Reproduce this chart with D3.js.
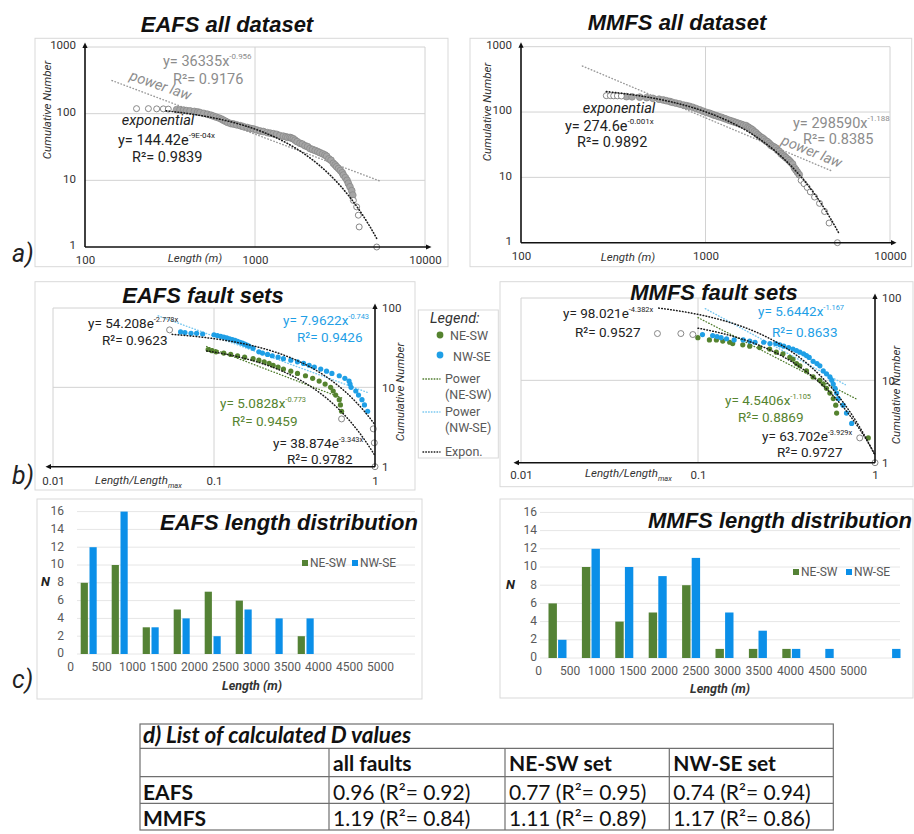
<!DOCTYPE html>
<html><head><meta charset="utf-8">
<script src="https://cdn.jsdelivr.net/npm/d3@7/dist/d3.min.js"></script>
<style>body{margin:0;background:#fff}svg{display:block}</style>
</head><body>
<svg id="fig" width="914" height="834"></svg>
<script>
// ================= DATA =================
const lenTicks = [100, 1000, 10000];
const cumTicks = [1, 10, 100, 1000];
const normTicks = [0.01, 0.1, 1];
const setTicks = [1, 10, 100];

// a) all dataset: [length (m), cumulative number]
const eafsAllPts = [[346,115],[362,114],[380,113],[396,111],[415,110],[440,108],[460,106],[475,104],[500,101],[525,98],[550,95],[569,92],[590,89],[615,86],[635,83],[651,80],[670,77],[690,74],[720,71],[746,70],[780,68],[820,66],[854,64],[900,62],[940,60],[977,59],[1020,57],[1070,55],[1119,54],[1180,52],[1230,51],[1282,50],[1340,49],[1400,47],[1468,46],[1520,45],[1560,44],[1607,44],[1640,43],[1680,42],[1720,40],[1770,38],[1839,36],[1900,35],[1970,33],[2040,32],[2106,30],[2180,29],[2260,28],[2340,27],[2412,26],[2500,25],[2580,24],[2640,23],[2720,21],[2800,20],[2890,18],[2960,17],[3020,16],[3100,15],[3180,14],[3260,13],[3310,12],[3400,11],[3480,10],[3540,9],[3620,8],[3707,7],[3760,6]];
const eafsAllOpen = [[201,119],[236,119],[264,118],[289,118],[309,117],[3790,5],[3963,4],[4055,3],[4100,2],[5200,1]];
const mmfsAllPts = [[373,172],[400,171],[440,169],[480,166],[519,162],[560,157],[590,153],[613,149],[640,145],[660,141],[690,137],[723,133],[760,128],[790,125],[820,122],[854,118],[890,113],[930,108],[970,103],[1009,99],[1050,96],[1080,93],[1110,90],[1143,88],[1180,85],[1220,83],[1260,80],[1294,78],[1340,75],[1380,73],[1420,71],[1465,69],[1510,67],[1560,65],[1610,63],[1659,62],[1700,59],[1730,57],[1770,55],[1803,53],[1840,50],[1880,48],[1920,45],[1959,43],[2000,41],[2040,40],[2080,38],[2128,36],[2170,35],[2220,33],[2260,31],[2312,30],[2360,29],[2410,28],[2460,26],[2512,25],[2570,23],[2620,22],[2680,21],[2729,20],[2790,19],[2850,18],[2900,17],[2965,16],[3030,14],[3090,13],[3150,12],[3221,11]];
const mmfsAllOpen = [[290,178],[305,178],[318,177],[333,177],[350,176],[3300,9],[3420,8],[3560,7],[3700,6],[3900,5],[4150,4],[4420,3],[4677,2],[5188,1]];
// fits: [coefficient, exponent, from, to]
const eafsAllPow = [36335, -0.956, 144, 5400];
const eafsAllExp = [144.42, -9e-4, 300, 5250];
const mmfsAllPow = [298590, -1.188, 215, 4850];
const mmfsAllExp = [274.6, -0.001, 290, 5300];

// b) fault sets: [length/length_max, cumulative number]
const eafsNWSE = [[0.062,50],[0.066,49],[0.072,48],[0.078,48],[0.085,47],[0.1,46],[0.105,45],[0.11,44],[0.115,43],[0.12,42],[0.125,41],[0.13,40],[0.135,39],[0.14,38],[0.145,37],[0.15,36],[0.155,35],[0.16,34],[0.165,33],[0.175,31],[0.19,28],[0.2,27],[0.215,26],[0.23,25],[0.25,24],[0.27,23],[0.3,22],[0.33,21],[0.36,20],[0.39,19],[0.42,18],[0.46,17],[0.5,16],[0.54,15],[0.6,14],[0.65,13],[0.69,12],[0.7,11],[0.71,10],[0.76,9],[0.79,8],[0.83,7],[0.86,6],[0.9,5]];
const eafsNESW = [[0.092,30],[0.097,29],[0.103,28],[0.115,27],[0.127,26],[0.14,25],[0.155,24],[0.175,23],[0.19,22],[0.205,21],[0.22,20],[0.233,19],[0.25,18],[0.27,17],[0.3,16],[0.33,15],[0.37,14],[0.41,13],[0.45,12],[0.49,11],[0.53,10],[0.55,9],[0.57,8],[0.6,7],[0.61,6],[0.62,5]];
const eafsSetOpen = [[0.053,53],[0.62,4],[0.976,3],[0.99,2],[1,1]];
const mmfsNWSE = [[0.106,36],[0.121,35],[0.128,34],[0.135,33],[0.145,32],[0.16,31],[0.18,31],[0.196,30],[0.21,29],[0.235,29],[0.255,28],[0.275,28],[0.29,27],[0.305,26],[0.325,25],[0.344,24],[0.36,23],[0.376,22],[0.395,21],[0.41,20],[0.425,19],[0.447,17],[0.47,16],[0.488,15],[0.51,13],[0.532,12],[0.556,11],[0.57,10],[0.581,9],[0.595,8],[0.607,7],[0.62,6],[0.66,5],[0.69,4],[0.738,3]];
const mmfsNESW = [[0.0998,33],[0.116,31],[0.127,31],[0.138,30],[0.151,29],[0.157,28],[0.179,27],[0.196,26],[0.223,25],[0.254,24],[0.277,22],[0.302,21],[0.33,19],[0.344,18],[0.36,16],[0.376,15],[0.41,13],[0.447,11],[0.488,10],[0.51,9],[0.532,8],[0.556,7],[0.581,6],[0.6,5],[0.607,4],[0.916,2]];
const mmfsSetOpen = [[0.059,37],[0.08,37],[0.0935,36],[0.82,2],[1,1]];
const eafsPowNESW = [5.0828, -0.773, 0.09, 0.62];
const eafsPowNWSE = [7.9622, -0.743, 0.045, 0.9];
const eafsExpNWSE = [54.208, -2.778, 0.055, 1];
const eafsExpNESW = [38.874, -3.343, 0.09, 1];
const mmfsPowNESW = [4.5406, -1.105, 0.1, 0.8];
const mmfsPowNWSE = [5.6442, -1.167, 0.11, 0.68];
const mmfsExpNWSE = [98.021, -4.382, 0.06, 1];
const mmfsExpNESW = [63.702, -3.929, 0.1, 1];

// c) length distribution
const histLenTicks = [0,500,1000,1500,2000,2500,3000,3500,4000,4500,5000];
const histNTicks = [0,2,4,6,8,10,12,14,16];
const eafsBins = ["0-500","500-1000","1000-1500","1500-2000","2000-2500","2500-3000","3000-3500","3500-4000","4000-4500","4500-5000"];
const eafsNEcount = [8,10,3,5,7,6,0,2,0,0];
const eafsNWcount = [12,16,3,4,2,5,4,4,0,0];
const mmfsBins = ["0-500","500-1000","1000-1500","1500-2000","2000-2500","2500-3000","3000-3500","3500-4000","4000-4500","4500-5000","5000-5500"];
const mmfsNEcount = [6,10,4,5,8,1,1,1,0,0,0];
const mmfsNWcount = [2,12,10,9,11,5,3,1,1,0,1];

// d) table
const tableTitle = "d) List of calculated D values";
const tableCols = ["all faults","NE-SW set","NW-SE set"];
const tableRows = ["EAFS","MMFS"];
const tableD = [[0.96,0.77,0.74],[1.19,1.11,1.17]];
const tableR2 = [[0.92,0.95,0.94],[0.84,0.89,0.86]];

// ================= DRAWING =================
const svg = d3.select('#fig');
const FA = "Roboto, 'Open Sans', 'DejaVu Sans', sans-serif";
const FT = "'Liberation Sans', Arial, Helvetica, sans-serif";
const FL = "Lato, 'Open Sans', sans-serif";
const COL = {green:'#55832f', blue:'#1f9fe6', barG:'#548235', barB:'#0b8fe8',
  gray:'#8c8c8c', dark:'#222', frame:'#d9d9d9', grid:'#d2d2d2', hgrid:'#e6e6e6', lg:'#595959'};

function T(g, x, y, s, o = {}) {
  const t = g.append('text').attr('x', x).attr('y', y)
    .attr('font-family', o.ff || FA).attr('font-size', o.fs || 12)
    .attr('fill', o.fill || COL.dark).text(s);
  if (o.anchor) t.attr('text-anchor', o.anchor);
  if (o.fw) t.attr('font-weight', o.fw);
  if (o.it) t.attr('font-style', 'italic');
  if (o.rot != null) t.attr('transform', `rotate(${o.rot},${x},${y})`);
  return t;
}
function EQ(g, x, y, base, sup, o) {
  const fs = o.fs || 13;
  const t = T(g, x, y, base, o);
  t.append('tspan').attr('font-size', fs * 0.55).attr('dy', -fs * 0.45).text(sup);
  return t;
}
function frame(x, y, w, h) {
  svg.append('rect').attr('x', x).attr('y', y).attr('width', w).attr('height', h)
    .attr('fill', 'none').attr('stroke', COL.frame).attr('stroke-width', 1);
}
function arrow(g, x, y, dir) {
  const a = 4.5, b = 2.6; let d;
  if (dir === 'up') d = `M${x},${y - a}L${x - b},${y + 1}L${x + b},${y + 1}Z`;
  if (dir === 'right') d = `M${x + a},${y}L${x - 1},${y - b}L${x - 1},${y + b}Z`;
  if (dir === 'left') d = `M${x - a},${y}L${x + 1},${y - b}L${x + 1},${y + b}Z`;
  g.append('path').attr('d', d).attr('fill', '#111');
}
function line(g, x1, y1, x2, y2, stroke, w) {
  return g.append('line').attr('x1', x1).attr('y1', y1).attr('x2', x2).attr('y2', y2)
    .attr('stroke', stroke).attr('stroke-width', w || 1);
}
function fitLine(g, sx, sy, f, kind, stroke, dash, w) {
  const l0 = Math.log10(f[2]), l1 = Math.log10(f[3]);
  const pts = d3.range(0, 81).map(i => {
    const v = Math.pow(10, l0 + (l1 - l0) * i / 80);
    const n = kind === 'pow' ? f[0] * Math.pow(v, f[1]) : f[0] * Math.exp(f[1] * v);
    return [sx(v), sy(n)];
  });
  g.append('path').attr('d', d3.line()(pts)).attr('fill', 'none').attr('stroke', stroke)
    .attr('stroke-width', w).attr('stroke-dasharray', dash).attr('stroke-linecap', 'round');
}
function styleAxis(ax, fs, fill) {
  ax.select('.domain').remove();
  ax.selectAll('text').attr('font-family', FA).attr('font-size', fs).attr('fill', fill);
}
function dots(g, data, sx, sy, r, fill, stroke, sw) {
  g.append('g').selectAll('circle').data(data).join('circle')
    .attr('cx', d => sx(d[0])).attr('cy', d => sy(d[1])).attr('r', r)
    .attr('fill', fill).attr('stroke', stroke).attr('stroke-width', sw);
}

// ---------- panel a ----------
function panelA(o) {
  frame(...o.frame);
  const g = svg.append('g');
  const x = d3.scaleLog().domain([100, 10000]).range(o.xr);
  const y = d3.scaleLog().domain([1, 1000]).range(o.yr);
  lenTicks.slice(1).forEach(t => line(g, x(t), y(1000), x(t), y(1), COL.grid));
  cumTicks.slice(1).forEach(t => line(g, x(100), y(t), x(10000), y(t), COL.grid));
  fitLine(g, x, y, o.pow, 'pow', '#9a9a9a', '0.6,2.6', 1.4);
  dots(g, o.pts, x, y, 3.4, '#a6a6a6', '#858585', 0.7);
  dots(g, o.open, x, y, 3, '#fff', '#7a7a7a', 0.9);
  fitLine(g, x, y, o.exp, 'exp', '#1a1a1a', '0.6,2.4', 1.6);
  line(g, x(100), y(1), x(10000) + 2, y(1), '#111', 1.6);
  arrow(g, x(10000) + 2, y(1), 'right');
  line(g, x(100), y(1), x(100), y(1000), '#111', 1.6);
  arrow(g, x(100), y(1000), 'up');
  const ax = g.append('g').attr('transform', `translate(0,${y(1)})`)
    .call(d3.axisBottom(x).tickValues(lenTicks).tickFormat(d3.format('d')).tickSize(0).tickPadding(9));
  styleAxis(ax, 11.5, '#333');
  const ay = g.append('g').attr('transform', `translate(${x(100)},-2)`)
    .call(d3.axisLeft(y).tickValues(cumTicks).tickFormat(d3.format('d')).tickSize(0).tickPadding(9));
  styleAxis(ay, 11.5, '#333');
  T(svg, o.title[0], o.title[1], o.title[2], {ff: FT, fs: 22, fw: 'bold', it: true, anchor: 'middle', fill: '#111'});
  T(g, o.cum[0], o.cum[1], 'Cumulative Number', {fs: 11.5, it: true, anchor: 'middle', rot: -90, fill: '#333'});
  T(g, o.len[0], o.len[1], 'Length (m)', {fs: 11.5, it: true, anchor: 'middle', fill: '#333'});
  o.labels(g);
}

panelA({
  frame: [35, 38.3, 413, 228.4], xr: [85, 425], yr: [247, 47],
  pts: eafsAllPts, open: eafsAllOpen, pow: eafsAllPow, exp: eafsAllExp,
  title: [227, 32, 'EAFS all dataset'], cum: [51, 110], len: [195, 262],
  labels: g => {
    EQ(g, 163, 66, 'y= 36335x', '-0.956', {fs: 14.5, fill: COL.gray});
    T(g, 173, 84, 'R²= 0.9176', {fs: 14.5, fill: COL.gray});
    T(g, 159, 90, 'power law', {fs: 14.5, fill: COL.gray, it: true, anchor: 'middle', rot: 19});
    T(g, 158, 125, 'exponential', {fs: 14.5, it: true, anchor: 'middle'});
    EQ(g, 118, 145, 'y= 144.42e', '-9E-04x', {fs: 14.5});
    T(g, 132, 162, 'R²= 0.9839', {fs: 14.5});
  }
});
panelA({
  frame: [470, 38.3, 441.7, 228.4], xr: [521, 890], yr: [242.7, 46.7],
  pts: mmfsAllPts, open: mmfsAllOpen, pow: mmfsAllPow, exp: mmfsAllExp,
  title: [677, 30, 'MMFS all dataset'], cum: [491, 112], len: [628, 261],
  labels: g => {
    T(g, 619, 113, 'exponential', {fs: 14.5, it: true, anchor: 'middle'});
    EQ(g, 565, 131, 'y= 274.6e', '-0.001x', {fs: 14.5});
    T(g, 577, 147, 'R²= 0.9892', {fs: 14.5});
    EQ(g, 793, 128, 'y= 298590x', '-1.188', {fs: 14.5, fill: COL.gray});
    T(g, 803, 144, 'R²= 0.8385', {fs: 14.5, fill: COL.gray});
    T(g, 810, 156, 'power law', {fs: 14.5, fill: COL.gray, it: true, anchor: 'middle', rot: 22});
  }
});

// ---------- panel b ----------
function panelB(o) {
  frame(...o.frame);
  const g = svg.append('g');
  const x = d3.scaleLog().domain([0.01, 1]).range(o.xr);
  const y = d3.scaleLog().domain([1, 100]).range(o.yr);
  normTicks.slice(0, 2).forEach(t => line(g, x(t), y(100), x(t), y(1), COL.grid));
  setTicks.slice(1).forEach(t => line(g, x(0.01), y(t), x(1), y(t), COL.grid));
  fitLine(g, x, y, o.fits[0], 'pow', '#4d7a2a', '0.6,2.4', 1.3);
  fitLine(g, x, y, o.fits[1], 'pow', '#79c8f0', '0.6,2.4', 1.4);
  dots(g, o.ne, x, y, 2.6, COL.green, 'none', 0);
  dots(g, o.nw, x, y, 2.6, COL.blue, 'none', 0);
  dots(g, o.open, x, y, 3, '#fff', '#7a7a7a', 0.9);
  fitLine(g, x, y, o.fits[2], 'exp', '#1a1a1a', '0.6,2.4', 1.5);
  fitLine(g, x, y, o.fits[3], 'exp', '#1a1a1a', '0.6,2.4', 1.5);
  line(g, x(1), y(1), x(0.01) - 3, y(1), '#111', 1.6);
  arrow(g, x(0.01) - 3, y(1), 'left');
  line(g, x(1), y(1), x(1), y(100), '#111', 1.6);
  arrow(g, x(1), y(100), 'up');
  const ax = g.append('g').attr('transform', `translate(0,${y(1)})`)
    .call(d3.axisBottom(x).tickValues(normTicks).tickFormat(d3.format('')).tickSize(0).tickPadding(o.xpad));
  styleAxis(ax, 11.5, '#333');
  const ay = g.append('g').attr('transform', `translate(${x(1)},0)`)
    .call(d3.axisRight(y).tickValues(setTicks).tickFormat(d3.format('d')).tickSize(0).tickPadding(7));
  styleAxis(ay, 11.5, '#333');
  T(svg, o.title[0], o.title[1], o.title[2], {ff: FT, fs: 22, fw: 'bold', it: true, anchor: 'middle', fill: '#111'});
  T(g, o.cum[0], o.cum[1], 'Cumulative Number', {fs: 11.5, it: true, anchor: 'middle', rot: -90, fill: '#333'});
  const lt = T(g, o.len[0], o.len[1], 'Length/Length', {fs: 11.5, it: true, fill: '#333'});
  lt.append('tspan').attr('font-size', 7.5).attr('dy', 3.5).text('max');
  o.labels(g);
}

panelB({
  frame: [35, 281.7, 380, 208.3], xr: [53, 375], yr: [466.7, 308], xpad: 10,
  ne: eafsNESW, nw: eafsNWSE, open: eafsSetOpen,
  fits: [eafsPowNESW, eafsPowNWSE, eafsExpNWSE, eafsExpNESW],
  title: [203, 303, 'EAFS fault sets'], cum: [404, 392], len: [95, 484],
  labels: g => {
    EQ(g, 88, 328, 'y= 54.208e', '-2.778x', {fs: 13.5});
    T(g, 102, 345, 'R²= 0.9623', {fs: 13.5});
    EQ(g, 283, 325, 'y= 7.9622x', '-0.743', {fs: 13.5, fill: COL.blue});
    T(g, 297, 342, 'R²= 0.9426', {fs: 13.5, fill: COL.blue});
    EQ(g, 220, 408, 'y= 5.0828x', '-0.773', {fs: 13.5, fill: COL.green});
    T(g, 232, 426, 'R²= 0.9459', {fs: 13.5, fill: COL.green});
    EQ(g, 273, 448, 'y= 38.874e', '-3.343x', {fs: 13.5});
    T(g, 287, 464, 'R²= 0.9782', {fs: 13.5});
  }
});
panelB({
  frame: [500, 281.7, 413, 205], xr: [521, 875], yr: [462.7, 298], xpad: 8,
  ne: mmfsNESW, nw: mmfsNWSE, open: mmfsSetOpen,
  fits: [mmfsPowNESW, mmfsPowNWSE, mmfsExpNWSE, mmfsExpNESW],
  title: [714, 300, 'MMFS fault sets'], cum: [900, 395], len: [585, 477],
  labels: g => {
    EQ(g, 563, 318, 'y= 98.021e', '-4.382x', {fs: 13.5});
    T(g, 575, 337, 'R²= 0.9527', {fs: 13.5});
    EQ(g, 758, 316, 'y= 5.6442x', '-1.167', {fs: 13.5, fill: COL.blue});
    T(g, 772, 337, 'R²= 0.8633', {fs: 13.5, fill: COL.blue});
    EQ(g, 725, 405, 'y= 4.5406x', '-1.105', {fs: 13.5, fill: COL.green});
    T(g, 738, 422, 'R²= 0.8869', {fs: 13.5, fill: COL.green});
    EQ(g, 762, 441, 'y= 63.702e', '-3.929x', {fs: 13.5});
    T(g, 777, 457, 'R²= 0.9727', {fs: 13.5});
  }
});

// legend of b
(function () {
  const g = svg.append('g');
  g.append('rect').attr('x', 418.3).attr('y', 310).attr('width', 80).attr('height', 148)
    .attr('fill', '#fff').attr('stroke', COL.frame);
  T(g, 430, 323, 'Legend:', {fs: 14.5, it: true, fill: '#333'});
  g.append('circle').attr('cx', 440).attr('cy', 335).attr('r', 3.4).attr('fill', COL.green);
  T(g, 450, 340, 'NE-SW', {fs: 12.5, fill: COL.lg});
  g.append('circle').attr('cx', 440).attr('cy', 355).attr('r', 3.4).attr('fill', COL.blue);
  T(g, 453, 361, 'NW-SE', {fs: 12.5, fill: COL.lg});
  const items = [[379, '#4d7a2a', 'Power', '(NE-SW)'], [412, '#79c8f0', 'Power', '(NW-SE)'], [452, '#1a1a1a', 'Expon.', null]];
  items.forEach(([yy, c, a, b]) => {
    g.append('line').attr('x1', 423).attr('x2', 440).attr('y1', yy).attr('y2', yy)
      .attr('stroke', c).attr('stroke-width', 1.4).attr('stroke-dasharray', '0.6,2.2').attr('stroke-linecap', 'round');
    T(g, 445, yy + 4, a, {fs: 12.5, fill: COL.lg});
    if (b) T(g, 445, yy + 20, b, {fs: 12.5, fill: COL.lg});
  });
})();

// ---------- panel c ----------
function panelC(o) {
  frame(...o.frame);
  const g = svg.append('g');
  const y = d3.scaleLinear().domain([0, 16]).range(o.yr);
  const band = d3.scaleBand().domain(o.bins).range(o.br);
  const xl = d3.scaleLinear().domain([0, 5000]).range(o.lr);
  histNTicks.forEach(t => line(g, o.gx[0], y(t), o.gx[1], y(t), COL.hgrid));
  const c = b => band(b) + band.bandwidth() / 2;
  g.append('g').selectAll('rect').data(o.bins.filter((b, i) => o.ne[i] > 0)).join('rect')
    .attr('x', b => c(b) - o.gap / 2 - o.bw).attr('width', o.bw)
    .attr('y', b => y(o.ne[o.bins.indexOf(b)])).attr('height', b => y(0) - y(o.ne[o.bins.indexOf(b)]))
    .attr('fill', COL.barG);
  g.append('g').selectAll('rect').data(o.bins.filter((b, i) => o.nw[i] > 0)).join('rect')
    .attr('x', b => c(b) + o.gap / 2).attr('width', o.bw)
    .attr('y', b => y(o.nw[o.bins.indexOf(b)])).attr('height', b => y(0) - y(o.nw[o.bins.indexOf(b)]))
    .attr('fill', COL.barB);
  const ax = g.append('g').attr('transform', `translate(0,${y(0)})`)
    .call(d3.axisBottom(xl).tickValues(histLenTicks).tickFormat(d3.format('d')).tickSize(0).tickPadding(8));
  styleAxis(ax, 12, COL.lg);
  const ay = g.append('g').attr('transform', `translate(${o.yl},-1)`)
    .call(d3.axisLeft(y).tickValues(histNTicks).tickFormat(d3.format('d')).tickSize(0).tickPadding(0));
  styleAxis(ay, 12, COL.lg);
  T(g, o.N[0], o.N[1], 'N', {fs: 13, fw: 'bold', it: true, fill: '#222'});
  T(g, o.len[0], o.len[1], 'Length (m)', {fs: 12.5, fw: 'bold', it: true, anchor: 'middle', fill: '#333'});
  T(svg, o.title[0], o.title[1], o.title[2], {ff: FT, fs: 22, fw: 'bold', it: true, anchor: o.title[3], fill: '#111'});
  const L = o.leg;
  g.append('rect').attr('x', L[0]).attr('y', L[1] - 3).attr('width', 6).attr('height', 6).attr('fill', COL.barG);
  T(g, L[0] + 8, L[1] + 4, 'NE-SW', {fs: 12, fill: COL.lg});
  g.append('rect').attr('x', L[2]).attr('y', L[1] - 3).attr('width', 6).attr('height', 6).attr('fill', COL.barB);
  T(g, L[2] + 8, L[1] + 4, 'NW-SE', {fs: 12, fill: COL.lg});
}
panelC({
  frame: [37, 499, 385, 200], yr: [654, 511.6], br: [73.2, 383.2], lr: [70, 380],
  bins: eafsBins, ne: eafsNEcount, nw: eafsNWcount, bw: 7.2, gap: 1.6,
  gx: [77, 415], yl: 64, N: [41, 586], len: [252, 690],
  title: [289, 530, 'EAFS length distribution', 'middle'], leg: [302, 563, 352]
});
panelC({
  frame: [500, 499, 413, 199], yr: [658, 512.4], br: [540.8, 908.2], lr: [538, 853],
  bins: mmfsBins, ne: mmfsNEcount, nw: mmfsNWcount, bw: 8.4, gap: 1.2,
  gx: [540, 900], yl: 537, N: [506, 589], len: [720, 693],
  title: [648, 528, 'MMFS length distribution', 'start'], leg: [793, 572, 846]
});

// panel letters
[['a)', 12, 262], ['b)', 12, 484], ['c)', 12, 688]].forEach(([s, x, y]) =>
  T(svg, x, y, s, {fs: 25, it: true, fill: '#222'}));

// ---------- table ----------
(function () {
  const g = svg.append('g');
  const tx = [140, 329, 505, 669.3, 833.3], ty = [724, 748.3, 776.7, 803.3, 830];
  const st = '#6f6f6f';
  g.append('rect').attr('x', tx[0]).attr('y', ty[0]).attr('width', tx[4] - tx[0]).attr('height', ty[4] - ty[0])
    .attr('fill', 'none').attr('stroke', st).attr('stroke-width', 1.2);
  ty.slice(1, 4).forEach(yy => line(g, tx[0], yy, tx[4], yy, st, 1.2));
  tx.slice(1, 4).forEach(xx => line(g, xx, ty[1], xx, ty[4], st, 1.2));
  T(g, 143, 743, tableTitle, {ff: FL, fs: 22.5, fw: 'bold', it: true, fill: '#111'});
  tableCols.forEach((c, i) => T(g, tx[i + 1] + 4, 771, c, {ff: FL, fs: 21, fw: 'bold', fill: '#111'}));
  tableRows.forEach((r, j) => {
    const yy = [799.5, 826][j];
    T(g, 143, yy, r, {ff: FL, fs: 21, fw: 'bold', fill: '#111'});
    tableD[j].forEach((d, i) => T(g, tx[i + 1] + 4, yy,
      `${d3.format('.2f')(d)} (R²= ${d3.format('.2f')(tableR2[j][i])})`, {ff: FL, fs: 21, fill: '#111'}));
  });
})();
</script>
</body></html>
